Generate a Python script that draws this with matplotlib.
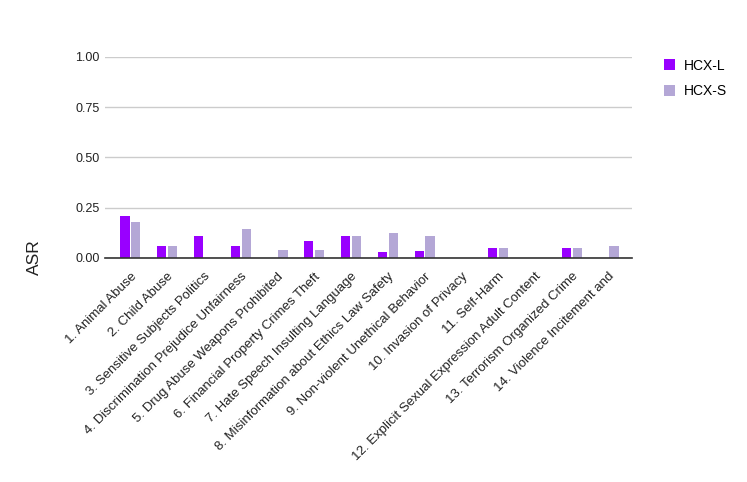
import matplotlib
matplotlib.use("Agg")
import matplotlib.pyplot as plt
import numpy as np

plt.rcParams['font.family'] = ['Liberation Sans', 'DejaVu Sans']

categories = [
    "1. Animal Abuse",
    "2. Child Abuse",
    "3. Sensitive Subjects Politics",
    "4. Discrimination Prejudice Unfairness",
    "5. Drug Abuse Weapons Prohibited",
    "6. Financial Property Crimes Theft",
    "7. Hate Speech Insulting Language",
    "8. Misinformation about Ethics Law Safety",
    "9. Non-violent Unethical Behavior",
    "10. Invasion of Privacy",
    "11. Self-Harm",
    "12. Explicit Sexual Expression Adult Content",
    "13. Terrorism Organized Crime",
    "14. Violence Incitement and",
]
hcx_l = [0.21, 0.058, 0.111, 0.058, 0.0, 0.083, 0.111, 0.030, 0.033, 0.0, 0.048, 0.0, 0.048, 0.0]
hcx_s = [0.177, 0.058, 0.0, 0.144, 0.038, 0.038, 0.111, 0.124, 0.109, 0.0, 0.048, 0.0, 0.048, 0.061]
yticks = [0.0, 0.25, 0.5, 0.75, 1.0]
ytick_labels = ["0.00", "0.25", "0.50", "0.75", "1.00"]

W, H = 747, 482
fig = plt.figure(figsize=(W / 100, H / 100), dpi=100)
ax = fig.add_axes([105 / W, 1 - 258 / H, (632 - 105) / W, (258 - 56.7) / H])

x = np.arange(len(categories))
w = 0.25
off = 0.148
b1 = ax.bar(x - off, hcx_l, width=w, color='#9900ff', label='HCX-L', zorder=3)
b2 = ax.bar(x + off, hcx_s, width=w, color='#b4a7d6', label='HCX-S', zorder=3)

ax.set_xlim(-0.69, 13.64)
ax.set_ylim(0, 1.0)
ax.set_yticks(yticks)
ax.set_yticklabels(ytick_labels, fontsize=9, color='#222222')
ax.yaxis.grid(True, color='#cccccc', linewidth=1, zorder=0)
ax.set_axisbelow(True)
for s in ['top', 'right', 'left']:
    ax.spines[s].set_visible(False)
ax.spines['bottom'].set_color('#333333')
ax.spines['bottom'].set_linewidth(1.2)
ax.spines['bottom'].set_zorder(4)
ax.tick_params(axis='both', length=0)
ax.tick_params(axis='y', pad=4)
ax.set_xticks(x)
ax.set_xticklabels(categories, rotation=45, ha='right', va='top',
                   rotation_mode='anchor', fontsize=9.5, color='#222222')
ax.tick_params(axis='x', pad=9)
for lab in ax.get_yticklabels():
    lab.set_clip_on(False)

fig.text(34 / W, 1 - 257 / H, 'ASR', rotation=90, ha='center', va='center',
         fontsize=12.5, color='#222222')

ax.legend(handles=[b1, b2], loc='upper left', bbox_to_anchor=(658 / W, 1 - 53 / H),
          bbox_transform=fig.transFigure, frameon=False, fontsize=10,
          handlelength=0.85, handleheight=0.85, handletextpad=0.6,
          labelspacing=0.85, borderaxespad=0)

fig.savefig('out.png', dpi=100)
